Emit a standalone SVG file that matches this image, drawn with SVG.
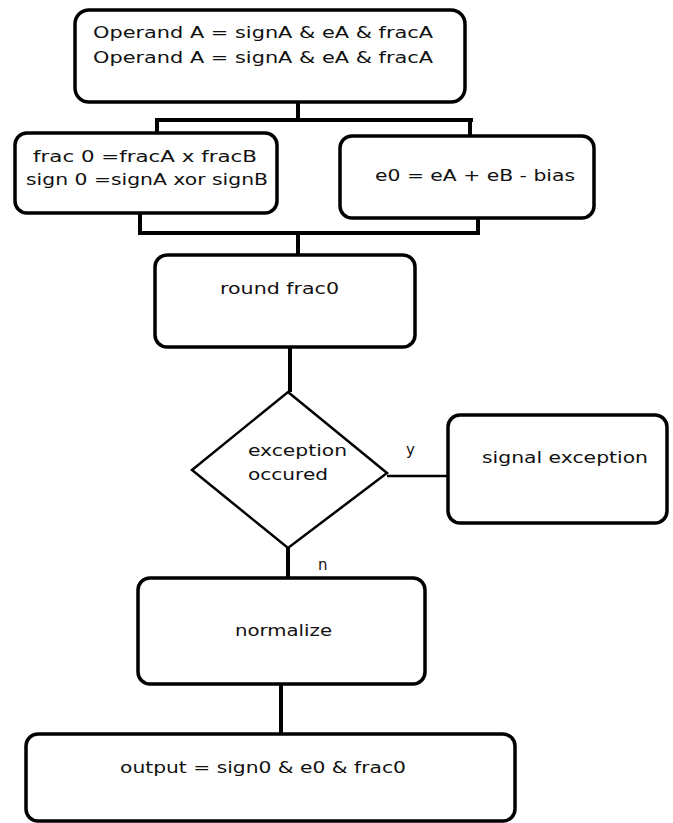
<svg xmlns="http://www.w3.org/2000/svg" width="673" height="823" viewBox="0 0 673 823">
<style>
.box{fill:#fff;stroke:#000;stroke-width:3.5}
.dia{fill:#fff;stroke:#000;stroke-width:2.5}
.ln{fill:none;stroke:#000;stroke-width:4}
.ln2{fill:none;stroke:#000;stroke-width:2.5}
text{font-family:"DejaVu Sans","Liberation Sans",sans-serif;font-size:15px;fill:#111}
</style>
<rect width="673" height="823" fill="#fff"/>
<g id="connectors">
<path class="ln" d="M298 102V120M155 120H473M157 120V133M470 120V137"/>
<path class="ln" d="M140 213V233H478V218M298 233V255"/>
<path class="ln" d="M290 347V392"/>
<path class="ln2" d="M387 476H448"/>
<path class="ln" d="M288 548V578"/>
<path class="ln" d="M281 684V734"/>
</g>
<g id="n-operands">
<rect class="box" x="75" y="10" width="390" height="92" rx="14"/>
<text x="93" y="38" textLength="340" lengthAdjust="spacingAndGlyphs">Operand  A = signA &amp; eA &amp; fracA</text>
<text x="93" y="63" textLength="340" lengthAdjust="spacingAndGlyphs">Operand  A = signA &amp; eA &amp; fracA</text>
</g>
<g id="n-frac">
<rect class="box" x="15" y="133" width="262" height="80" rx="12"/>
<text x="33" y="162" textLength="224" lengthAdjust="spacingAndGlyphs">frac 0 =fracA x  fracB</text>
<text x="26" y="185" textLength="242" lengthAdjust="spacingAndGlyphs">sign 0 =signA xor signB</text>
</g>
<g id="n-exp">
<rect class="box" x="340" y="136" width="254" height="82" rx="12"/>
<text x="375" y="181" textLength="200" lengthAdjust="spacingAndGlyphs">e0 = eA + eB  -  bias</text>
</g>
<g id="n-round">
<rect class="box" x="155" y="255" width="260" height="92" rx="12"/>
<text x="220" y="294" textLength="119" lengthAdjust="spacingAndGlyphs">round frac0</text>
</g>
<g id="n-decision">
<polygon class="dia" points="288,392 387,473 288,548 192,470"/>
<text x="248" y="456" textLength="99" lengthAdjust="spacingAndGlyphs">exception</text>
<text x="248" y="480" textLength="80" lengthAdjust="spacingAndGlyphs">occured</text>
</g>
<g id="labels">
<text x="406" y="455">y</text>
<text x="318" y="570">n</text>
</g>
<g id="n-signal">
<rect class="box" x="448" y="415" width="219" height="108" rx="12"/>
<text x="482" y="463" textLength="166" lengthAdjust="spacingAndGlyphs">signal exception</text>
</g>
<g id="n-normalize">
<rect class="box" x="138" y="578" width="287" height="106" rx="12"/>
<text x="235" y="636" textLength="97" lengthAdjust="spacingAndGlyphs">normalize</text>
</g>
<g id="n-output">
<rect class="box" x="26" y="734" width="489" height="87" rx="12"/>
<text x="120" y="773" textLength="286" lengthAdjust="spacingAndGlyphs">output = sign0 &amp; e0 &amp; frac0</text>
</g>
</svg>
